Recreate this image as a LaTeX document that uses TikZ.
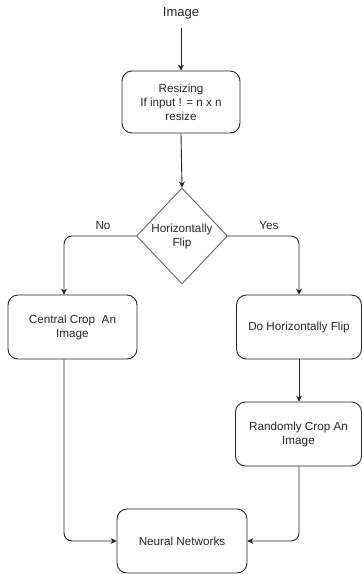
\documentclass[tikz,border=0pt]{standalone}
\usepackage{fontspec}
\setmainfont{Liberation Sans}
\usetikzlibrary{shapes.geometric,arrows.meta}
\begin{document}
\begin{tikzpicture}[x=1pt,y=-1pt,
  box/.style={draw=black!85, line width=0.9pt, rounded corners=10pt, align=center, font=\fontsize{11.7}{14}\selectfont, text=black!85, inner sep=0pt},
  dia/.style={draw=black!60, line width=0.9pt, diamond, aspect=0.95, minimum width=91pt, minimum height=96pt, inner sep=0pt, align=center, font=\fontsize{11.7}{14}\selectfont, text=black!85},
  conn/.style={draw=black!85, line width=0.9pt, -{Stealth[length=6pt,width=6pt]}, rounded corners=8pt},
  lbl/.style={font=\fontsize{11.7}{14}\selectfont, text=black!85}]
\useasboundingbox (0,0) rectangle (362,574);
\node[lbl, font=\fontsize{13}{15}\selectfont] (img) at (181,13) {Image};
\node[box, minimum width=118pt, minimum height=62pt] (res) at (181,102) {Resizing\\If input ! = n x n\\resize};
\node[dia] (flip) at (182,236) {Horizontally\\Flip};
\node[box, minimum width=129pt, minimum height=64pt] (cc) at (72.5,327) {Central Crop\ \ An\\Image};
\node[box, minimum width=125pt, minimum height=64pt] (dh) at (299,327) {Do Horizontally Flip};
\node[box, minimum width=126pt, minimum height=64pt] (rc) at (298.5,434) {Randomly Crop An\\Image};
\node[box, minimum width=130pt, minimum height=64pt] (nn) at (182,541) {Neural Networks};
\node[lbl] (no) at (103,226) {No};
\node[lbl] (yes) at (269,226) {Yes};
\coordinate (ccl) at (64,0);
\coordinate (dhl) at (299,0);
\draw[conn] (img.south |- 0,28) -- (res.north);
\draw[conn] (res.south) -- (flip.north);
\draw[conn] (flip.west) -| (ccl |- cc.north);
\draw[conn] (flip.east) -| (dhl |- dh.north);
\draw[conn] (dh.south -| dhl) -- (rc.north -| dhl);
\draw[conn] (cc.south -| ccl) |- (nn.west);
\draw[conn] (rc.south -| dhl) |- (nn.east);
\end{tikzpicture}
\end{document}
